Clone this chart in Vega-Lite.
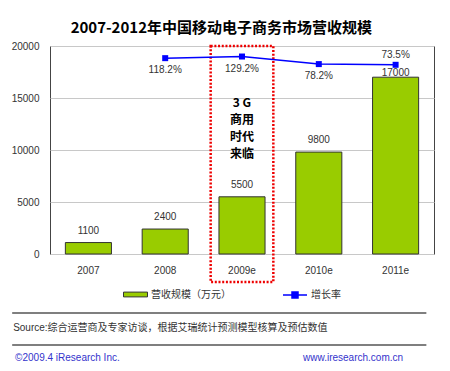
{
  "$schema": "https://vega.github.io/schema/vega-lite/v6.json",
  "padding": {"left": 10, "top": 20, "right": 0, "bottom": 0},
  "title": {"text": "2007-2012年中国移动电子商务市场营收规模", "font": "Noto Sans CJK SC", "fontSize": 15, "fontWeight": "bold", "color": "#000000", "anchor": "middle", "offset": 5, "dx": -3},
  "config": {
    "font": "Liberation Sans, Noto Sans CJK SC",
    "view": {"stroke": "#444444", "strokeWidth": 1}
  },
  "spacing": 28,
  "vconcat": [
    {
      "width": 384,
      "height": 208,
      "data": {"values": [
        {"year": "2007", "revenue": 1100, "growth": null},
        {"year": "2008", "revenue": 2400, "growth": 1.182},
        {"year": "2009e", "revenue": 5500, "growth": 1.292},
        {"year": "2010e", "revenue": 9800, "growth": 0.782},
        {"year": "2011e", "revenue": 17000, "growth": 0.735}
      ]},
      "encoding": {
        "x": {"field": "year", "type": "nominal", "sort": null,
          "scale": {"paddingInner": 0.4, "paddingOuter": 0.2},
          "axis": {"title": null, "labelAngle": 0, "domain": false, "ticks": false, "labelPadding": 11, "labelFontSize": 10, "labelColor": "#333333", "labelFont": "Liberation Sans"}}
      },
      "layer": [
        {
          "layer": [
            {
              "mark": {"type": "bar", "stroke": "#333333", "strokeWidth": 1},
              "encoding": {
                "y": {"field": "revenue", "type": "quantitative", "scale": {"domain": [0, 20000]},
                  "axis": {"title": null, "values": [0, 5000, 10000, 15000, 20000], "format": "d", "domain": false, "ticks": false, "labelPadding": 11, "labelFontSize": 10, "labelColor": "#333333", "labelFont": "Liberation Sans", "gridColor": "#c8c8c8", "gridWidth": 1}},
                "fill": {"datum": "营收规模（万元）", "scale": {"range": ["#99cc00"]},
                  "legend": {"title": null, "orient": "none", "legendX": 73, "legendY": 236, "symbolType": "M-1,-0.2H1V0.2H-1Z", "symbolSize": 576, "symbolStrokeColor": "#333333", "symbolStrokeWidth": 1, "labelFont": "Noto Sans CJK SC", "labelFontSize": 10, "labelColor": "#333333", "labelOffset": 3, "padding": 0}}
              }
            },
            {
              "transform": [{"filter": "datum.year != '2011e'"}],
              "mark": {"type": "text", "dy": -12, "baseline": "middle", "fontSize": 10, "color": "#333333", "font": "Liberation Sans"},
              "encoding": {
                "y": {"field": "revenue", "type": "quantitative"},
                "text": {"field": "revenue", "type": "quantitative", "format": "d"}
              }
            },
            {
              "transform": [{"filter": "datum.year == '2011e'"}],
              "mark": {"type": "text", "dy": -4, "baseline": "middle", "fontSize": 10, "color": "#333333", "font": "Liberation Sans"},
              "encoding": {
                "y": {"field": "revenue", "type": "quantitative"},
                "text": {"field": "revenue", "type": "quantitative", "format": "d"}
              }
            },
            {
              "data": {"values": [{"year": "2009e", "note": "3 G\n商用\n时代\n来临"}]},
              "mark": {"type": "bar", "fill": null, "stroke": "#ee0000", "strokeWidth": 2.5, "strokeDash": [2, 1.7], "width": {"band": 1.36}, "y2Offset": 28},
              "encoding": {
                "x": {"field": "year", "type": "nominal"},
                "y": {"datum": 20000, "type": "quantitative"},
                "y2": {"datum": 0}
              }
            },
            {
              "data": {"values": [{"year": "2009e", "note": "3 G\n商用\n时代\n来临"}]},
              "mark": {"type": "text", "baseline": "top", "align": "center", "lineBreak": "\n", "lineHeight": 17, "fontSize": 12, "fontWeight": "bold", "font": "Noto Sans CJK SC", "color": "#000000"},
              "encoding": {
                "x": {"field": "year", "type": "nominal"},
                "y": {"datum": 15000, "type": "quantitative"},
                "text": {"field": "note"}
              }
            }
          ]
        },
        {
          "transform": [{"filter": "datum.growth != null"}],
          "layer": [
            {
              "mark": {"type": "line", "strokeWidth": 1.5, "point": {"filled": true, "shape": "square", "size": 36}},
              "encoding": {
                "y": {"field": "growth", "type": "quantitative", "scale": {"domain": [-12, 2]}, "axis": null},
                "color": {"datum": "增长率", "scale": {"range": ["#0000ff"]},
                  "legend": {"title": null, "orient": "none", "legendX": 232, "legendY": 236, "symbolType": "M-1,0H1M-0.25,-0.25H0.25V0.25H-0.25Z", "symbolSize": 576, "symbolStrokeColor": "#0000ff", "symbolFillColor": "#0000ff", "symbolStrokeWidth": 1.5, "labelFont": "Noto Sans CJK SC", "labelFontSize": 10, "labelColor": "#333333", "labelOffset": 3, "padding": 0}}
              }
            },
            {
              "transform": [{"filter": "datum.year != '2011e'"}],
              "mark": {"type": "text", "dy": 12, "baseline": "middle", "fontSize": 10, "color": "#333333", "font": "Liberation Sans"},
              "encoding": {
                "y": {"field": "growth", "type": "quantitative"},
                "text": {"field": "growth", "type": "quantitative", "format": ".1%"}
              }
            },
            {
              "transform": [{"filter": "datum.year == '2011e'"}],
              "mark": {"type": "text", "dy": -10, "baseline": "middle", "fontSize": 10, "color": "#333333", "font": "Liberation Sans"},
              "encoding": {
                "y": {"field": "growth", "type": "quantitative"},
                "text": {"field": "growth", "type": "quantitative", "format": ".1%"}
              }
            }
          ]
        }
      ],
      "resolve": {"scale": {"y": "independent"}}
    },
    {
      "width": 388,
      "height": 45,
      "view": {"stroke": null},
      "layer": [
        {
          "data": {"values": [{"pos": "top"}]},
          "mark": {"type": "rule", "color": "#555555", "strokeWidth": 1.5},
          "encoding": {
            "x": {"datum": -39, "type": "quantitative", "scale": {"domain": [0, 388]}, "axis": null},
            "x2": {"datum": 388},
            "y": {"datum": 0, "type": "quantitative", "scale": {"domain": [45, 0]}, "axis": null}
          }
        },
        {
          "data": {"values": [{"pos": "bottom"}]},
          "mark": {"type": "rule", "color": "#555555", "strokeWidth": 1.5},
          "encoding": {
            "x": {"datum": -39, "type": "quantitative"},
            "x2": {"datum": 388},
            "y": {"datum": 32, "type": "quantitative"}
          }
        },
        {
          "data": {"values": [{"t": "Source:综合运营商及专家访谈，根据艾瑞统计预测模型核算及预估数值"}]},
          "mark": {"type": "text", "align": "left", "baseline": "middle", "fontSize": 10, "color": "#333333"},
          "encoding": {
            "x": {"datum": -38, "type": "quantitative"},
            "y": {"datum": 15, "type": "quantitative"},
            "text": {"field": "t"}
          }
        },
        {
          "data": {"values": [{"t": "©2009.4 iResearch Inc."}]},
          "mark": {"type": "text", "align": "left", "baseline": "middle", "fontSize": 10, "color": "#3333cc"},
          "encoding": {
            "x": {"datum": -36, "type": "quantitative"},
            "y": {"datum": 45, "type": "quantitative"},
            "text": {"field": "t"}
          }
        },
        {
          "data": {"values": [{"t": "www.iresearch.com.cn"}]},
          "mark": {"type": "text", "align": "right", "baseline": "middle", "fontSize": 10, "color": "#3333cc"},
          "encoding": {
            "x": {"datum": 364, "type": "quantitative"},
            "y": {"datum": 45, "type": "quantitative"},
            "text": {"field": "t"}
          }
        }
      ]
    }
  ]
}
